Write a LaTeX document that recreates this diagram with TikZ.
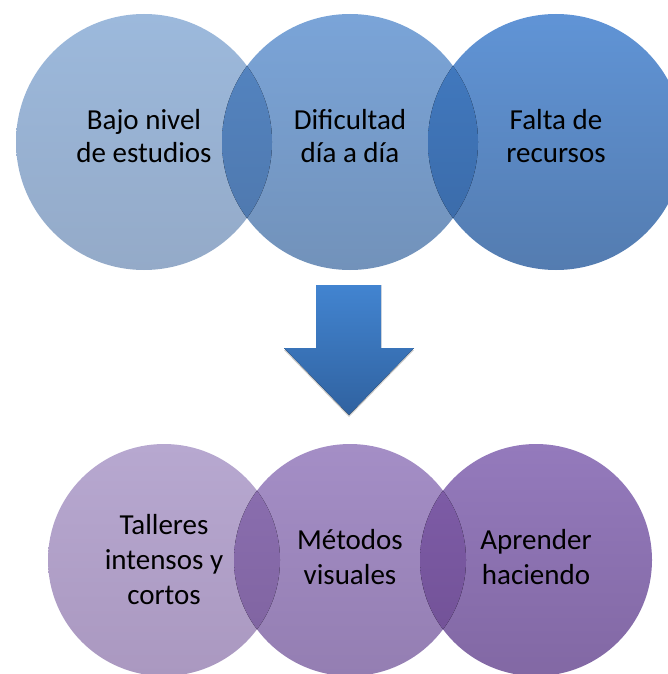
\documentclass[tikz,border=0pt]{standalone}
\usepackage{fontspec}
\setmainfont{Carlito}

\definecolor{blueA}{RGB}{156,185,220}
\definecolor{blueAb}{RGB}{148,170,200}
\definecolor{blueB}{RGB}{122,164,216}
\definecolor{blueBb}{RGB}{114,146,186}
\definecolor{blueC}{RGB}{96,148,214}
\definecolor{blueCb}{RGB}{84,124,176}
\definecolor{blueAB}{RGB}{84,134,196}
\definecolor{blueABb}{RGB}{78,118,170}
\definecolor{blueBC}{RGB}{66,124,196}
\definecolor{blueBCb}{RGB}{58,104,164}
\definecolor{lilaA}{RGB}{183,168,208}
\definecolor{lilaAb}{RGB}{170,152,192}
\definecolor{lilaB}{RGB}{164,142,198}
\definecolor{lilaBb}{RGB}{148,126,178}
\definecolor{lilaC}{RGB}{148,122,188}
\definecolor{lilaCb}{RGB}{130,104,164}
\definecolor{lilaAB}{RGB}{140,112,178}
\definecolor{lilaABb}{RGB}{126,98,158}
\definecolor{lilaBC}{RGB}{128,94,170}
\definecolor{lilaBCb}{RGB}{112,80,148}
\definecolor{arrowtop}{RGB}{66,132,208}
\definecolor{arrowbot}{RGB}{48,98,160}

\tikzset{
  bubble/.style={circle, inner sep=0pt, minimum size=2*#1},
  caption/.style={font=\fontsize{29}{33}\selectfont, align=center, text=black},
}

\begin{document}
\begin{tikzpicture}[x=1pt,y=-1pt,line join=round]
    \useasboundingbox (0,0) rectangle (667,674);
    % top row
    \node[bubble=128pt, top color=blueA, bottom color=blueAb] (t1) at (144,142) {};
    \node[bubble=128pt, top color=blueB, bottom color=blueBb] (t2) at (350,142) {};
    \node[bubble=128pt, top color=blueC, bottom color=blueCb] (t3) at (556,142) {};
    \begin{scope}
        \clip (t1.center) circle[radius=128pt];
        \fill[top color=blueAB, bottom color=blueABb] (t2.center) circle[radius=128pt];
    \end{scope}
    \begin{scope}
        \clip (t2.center) circle[radius=128pt];
        \fill[top color=blueBC, bottom color=blueBCb] (t3.center) circle[radius=128pt];
    \end{scope}
    \node[caption] (ta) at ([yshift=6pt]t1) {Bajo nivel\\de estudios};
    \node[caption] (tb) at ([yshift=6pt]t2) {Dificultad\\día a día};
    \node[caption] (tc) at ([yshift=6pt]t3) {Falta de\\recursos};
    % arrow
    \fill[gray!70, opacity=0.6] (284,350) -- (349,417) -- (414,350) -- cycle;
    \fill[top color=arrowtop, bottom color=arrowbot]
        (316,285) -- (381,285) -- (381,348) -- (414,348) -- (349,415)
        -- (284,348) -- (316,348) -- cycle;
    % bottom row
    \node[bubble=116pt, top color=lilaA, bottom color=lilaAb] (b1) at (164,560) {};
    \node[bubble=116pt, top color=lilaB, bottom color=lilaBb] (b2) at (350,560) {};
    \node[bubble=116pt, top color=lilaC, bottom color=lilaCb] (b3) at (536,560) {};
    \begin{scope}
        \clip (b1.center) circle[radius=116pt];
        \fill[top color=lilaAB, bottom color=lilaABb] (b2.center) circle[radius=116pt];
    \end{scope}
    \begin{scope}
        \clip (b2.center) circle[radius=116pt];
        \fill[top color=lilaBC, bottom color=lilaBCb] (b3.center) circle[radius=116pt];
    \end{scope}
    \node[caption, font=\fontsize{29}{35}\selectfont] (ba) at (b1) {Talleres\\intensos y\\cortos};
    \node[caption, font=\fontsize{29}{35}\selectfont] (bb) at ([yshift=3pt]b2) {Métodos\\visuales};
    \node[caption, font=\fontsize{29}{35}\selectfont] (bc) at ([yshift=3pt]b3) {Aprender\\haciendo};
\end{tikzpicture}
\end{document}
